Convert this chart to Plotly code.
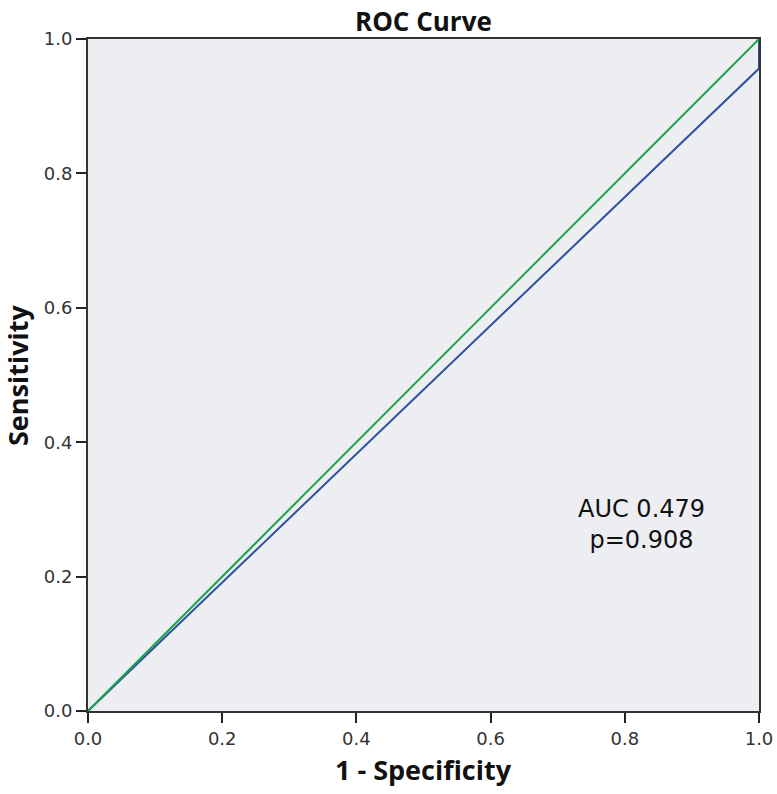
import plotly.graph_objects as go

ref_x = [0.0, 1.0]
ref_y = [0.0, 1.0]
roc_x = [0.0, 1.0, 1.0]
roc_y = [0.0, 0.956, 1.0]
tick_vals = [0.0, 0.2, 0.4, 0.6, 0.8, 1.0]
tick_text = ["0.0", "0.2", "0.4", "0.6", "0.8", "1.0"]
auc_text = "AUC 0.479<br>p=0.908"

fig = go.Figure()
fig.add_trace(go.Scatter(x=roc_x, y=roc_y, mode="lines",
                         line=dict(color="#2F4FA3", width=2), showlegend=False, hoverinfo="skip"))
fig.add_trace(go.Scatter(x=ref_x, y=ref_y, mode="lines",
                         line=dict(color="#22A24C", width=2), showlegend=False, hoverinfo="skip"))

fig.add_annotation(x=0.825, y=0.277, xref="x", yref="y", text=auc_text, showarrow=False,
                   font=dict(family="DejaVu Sans, sans-serif", size=24, color="#111"), align="center")

title_font = dict(family="Open Sans, sans-serif", size=27, color="#111")

axis_common = dict(range=[0, 1], tickvals=tick_vals, ticktext=tick_text, ticks="outside", ticklen=10,
                   tickwidth=2, tickcolor="#222", showline=True, linewidth=2, linecolor="#333",
                   mirror=True, showgrid=False, zeroline=False, automargin=False,
                   tickfont=dict(family="DejaVu Sans, sans-serif", size=18, color="#333"))

fig.update_layout(
    width=777, height=794,
    margin=dict(l=88, r=18, t=39, b=83, autoexpand=False),
    paper_bgcolor="white", plot_bgcolor="#ECEEF1",
    xaxis=dict(**axis_common),
    yaxis=dict(**axis_common),
)

fig.add_annotation(x=0.5, y=1, xref="paper", yref="paper", yanchor="top",
                   yshift=38, text="<b>ROC Curve</b>", showarrow=False,
                   font=dict(family="Open Sans, sans-serif", size=26, color="#111"))
fig.add_annotation(x=0.5, y=0, xref="paper", yref="paper", yshift=-58, text="<b>1 - Specificity</b>",
                   showarrow=False, yanchor="middle", font=title_font)
fig.add_annotation(x=0, y=0.5, xref="paper", yref="paper", xshift=-71, text="<b>Sensitivity</b>",
                   showarrow=False, textangle=-90, xanchor="center", font=title_font)

fig.write_html("out.html", config={"displayModeBar": False},
               post_script="document.body.style.margin='0';")
